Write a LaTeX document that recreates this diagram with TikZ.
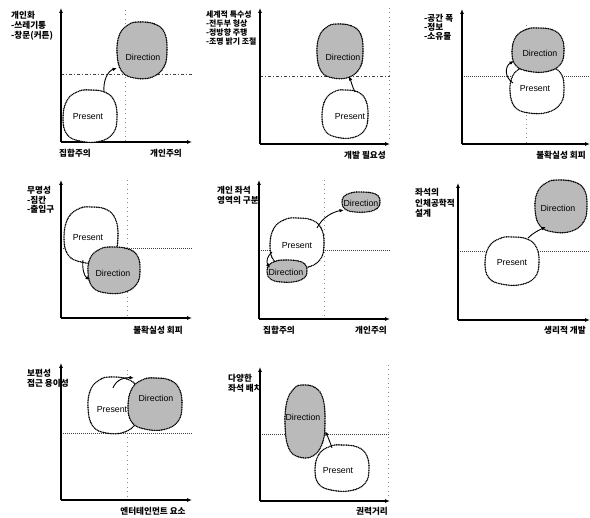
\documentclass[tikz,border=0pt]{standalone}
\usepackage{fontspec}
\setmainfont{Liberation Sans}
\newfontfamily\kr{Noto Sans CJK KR}
\usetikzlibrary{arrows.meta}
\newcommand{\myblob}[5]{\draw[#1, shift={(#2,#3)}, xscale=#4, yscale=#5] plot[smooth cycle, tension=0.7] coordinates {(0,-1) (0.55,-0.92) (0.9,-0.58) (1,0.05) (0.86,0.66) (0.35,0.98) (-0.35,0.97) (-0.86,0.7) (-1,0.05) (-0.84,-0.62) (-0.42,-0.95)};}
\newcommand{\myblobb}[5]{\draw[#1, shift={(#2,#3)}, xscale=#4, yscale=#5] plot[smooth cycle, tension=0.7] coordinates {(-0.15,-1) (0.5,-0.93) (0.9,-0.62) (1,0) (0.88,0.6) (0.4,0.97) (-0.3,1) (-0.82,0.75) (-1,0.1) (-0.9,-0.55) (-0.55,-0.9)};}
\tikzset{
  axis/.style={line width=1.1pt, -{Latex[length=5pt,width=4pt]}},
  hgrid/.style={line width=0.6pt, black!75, dash pattern=on 1pt off 1pt},
  hdash/.style={line width=0.6pt, black!75, dash pattern=on 3pt off 2pt on 1pt off 2pt},
  vgrid/.style={line width=0.6pt, black!45, dash pattern=on 1pt off 3.5pt},
  pres/.style={line width=1.6pt, dash pattern=on 0pt off 1.7pt, line cap=round, fill=white},
  dirn/.style={line width=1.6pt, dash pattern=on 0pt off 1.7pt, line cap=round, fill=black!27},
  arr/.style={line width=0.9pt, -{Latex[length=4.5pt,width=3.6pt]}},
  ktxt/.style={font=\kr\bfseries\fontsize{8.6}{9}\selectfont, inner sep=0pt, anchor=west},
  ktxs/.style={font=\kr\bfseries\fontsize{7.9}{8}\selectfont, inner sep=0pt, anchor=west},
  kax/.style={font=\kr\bfseries\fontsize{8.6}{9}\selectfont, inner sep=0pt},
  lbl/.style={font=\fontsize{8.8}{9}\selectfont, inner sep=0pt}
}
\begin{document}
\begin{tikzpicture}[x=1pt,y=-1pt]
\useasboundingbox (0,0) rectangle (590,518);
%% ---------- Panel 1 ----------
\coordinate (o1) at (61,142); \coordinate (y1) at (61,8); \coordinate (x1) at (192,142);
\draw[vgrid] (125,10) -- (125,142);
\draw[hdash] (61,74) -- (192,74);
\draw[axis] (o1) -- (y1); \draw[axis] (o1) -- (x1);
\myblob{pres}{90}{116}{27}{26}
\myblobb{dirn}{142}{50}{25}{28}
\node[lbl] (p1) at (88,117) {Present};
\node[lbl] (d1) at (143,57) {Direction};
\coordinate (a1s) at (104,92); \coordinate (a1e) at (117,68);
\draw[arr] (a1s) .. controls (103,80) and (108,71) .. (a1e);
\node[ktxt] (t1a) at (11,15) {개인화};
\node[ktxt] (t1b) at (11,25) {-쓰레기통};
\node[ktxt] (t1c) at (11,36) {-창문(커튼)};
\node[kax] (x1a) at (75,153) {집합주의};
\node[kax] (x1b) at (166,153) {개인주의};
%% ---------- Panel 2 ----------
\coordinate (o2) at (260,144); \coordinate (y2) at (260,8); \coordinate (x2) at (390,144);
\draw[vgrid] (389,8) -- (389,140);
\draw[hdash] (260,76) -- (390,76);
\draw[axis] (o2) -- (y2); \draw[axis] (o2) -- (x2);
\myblob{pres}{345}{114}{23}{24}
\myblobb{dirn}{340}{51}{23}{27}
\node[lbl] (p2) at (350,117) {Present};
\node[lbl] (d2) at (343,57) {Direction};
\coordinate (a2s) at (355,92); \coordinate (a2e) at (349,76);
\draw[arr] (a2s) .. controls (352,86) and (351,81) .. (a2e);
\node[ktxs] (t2a) at (206,15) {세계적 특수성};
\node[ktxs] (t2b) at (206,23.8) {-전두부 형상};
\node[ktxs] (t2c) at (206,32.6) {-정방향 주행};
\node[ktxs] (t2d) at (206,41.4) {-조명 밝기 조절};
\node[kax] (x2a) at (365,155) {개발 필요성};
%% ---------- Panel 3 ----------
\coordinate (o3) at (462,144); \coordinate (y3) at (462,9); \coordinate (x3) at (590,144);
\draw[vgrid] (526,25) -- (526,144);
\draw[hgrid] (462,76) -- (590,76);
\draw[axis] (o3) -- (y3); \draw[axis] (o3) -- (x3);
\myblobb{pres}{537}{89}{27}{24}
\myblob{dirn}{538}{50}{26}{22}
\node[lbl] (p3) at (535,89) {Present};
\node[lbl] (d3) at (540,53) {Direction};
\coordinate (a3s) at (513,83); \coordinate (a3e) at (514,61);
\draw[arr] (a3s) .. controls (504,77) and (505,66) .. (a3e);
\node[ktxt] (t3a) at (424,18) {-공간 폭};
\node[ktxt] (t3b) at (424,27) {-정보};
\node[ktxt] (t3c) at (424,36) {-소유물};
\node[kax] (x3a) at (561,155) {불확실성 회피};
%% ---------- Panel 4 ----------
\coordinate (o4) at (61,318); \coordinate (y4) at (61,180); \coordinate (x4) at (192,318);
\draw[vgrid] (127,180) -- (127,318);
\draw[hgrid] (61,248) -- (192,248);
\draw[axis] (o4) -- (y4); \draw[axis] (o4) -- (x4);
\myblob{pres}{91}{235}{27}{28}
\myblobb{dirn}{114}{270}{26}{23}
\node[lbl] (p4) at (88,238) {Present};
\node[lbl] (d4) at (113,273) {Direction};
\coordinate (a4s) at (83,260); \coordinate (a4e) at (90,280);
\draw[arr] (a4s) .. controls (82,268) and (84,276) .. (a4e);
\node[ktxt] (t4a) at (27,190) {무명성};
\node[ktxt] (t4b) at (27,200) {-짐칸};
\node[ktxt] (t4c) at (27,209) {-출입구};
\node[kax] (x4a) at (158,330) {불확실성 회피};
%% ---------- Panel 5 ----------
\coordinate (o5) at (259,319); \coordinate (y5) at (259,180); \coordinate (x5) at (390,319);
\draw[vgrid] (324,180) -- (324,319);
\draw[hgrid] (259,250) -- (390,250);
\draw[axis] (o5) -- (y5); \draw[axis] (o5) -- (x5);
\myblob{pres}{297}{243}{27}{25}
\myblobb{dirn}{287}{271}{20}{11}
\myblobb{dirn}{361}{202}{19}{10}
\node[lbl] (p5) at (297,246) {Present};
\node[lbl] (d5a) at (286,272) {Direction};
\node[lbl] (d5b) at (361,203) {Direction};
\coordinate (a5s) at (317,228); \coordinate (a5e) at (344,210);
\draw[arr] (a5s) .. controls (322,218) and (332,212) .. (a5e);
\coordinate (a5t) at (272,252); \coordinate (a5u) at (270,268);
\draw[arr] (a5t) .. controls (267,256) and (266,262) .. (a5u);
\node[ktxt] (t5a) at (217,190) {개인 좌석};
\node[ktxt] (t5b) at (217,200) {영역의 구분};
\node[kax] (x5a) at (279,330) {집합주의};
\node[kax] (x5b) at (371,330) {개인주의};
%% ---------- Panel 6 ----------
\coordinate (o6) at (458,320); \coordinate (y6) at (458,183); \coordinate (x6) at (590,320);
\draw[hgrid] (458,251) -- (590,251);
\draw[axis] (o6) -- (y6); \draw[axis] (o6) -- (x6);
\myblob{pres}{512}{261}{27}{24}
\myblobb{dirn}{561}{206}{26}{26}
\node[lbl] (p6) at (512,263) {Present};
\node[lbl] (d6) at (558,208) {Direction};
\coordinate (a6s) at (528,238); \coordinate (a6e) at (546,227);
\draw[arr] (a6s) .. controls (533,233) and (539,230) .. (a6e);
\node[ktxt] (t6a) at (415,192) {좌석의};
\node[ktxt] (t6b) at (415,203) {인체공학적};
\node[ktxt] (t6c) at (415,213) {설계};
\node[kax] (x6a) at (565,330) {생리적 개발};
%% ---------- Panel 7 ----------
\coordinate (o7) at (61,500); \coordinate (y7) at (61,363); \coordinate (x7) at (192,500);
\draw[vgrid] (127,370) -- (127,500);
\draw[hgrid] (61,433) -- (192,433);
\draw[axis] (o7) -- (y7); \draw[axis] (o7) -- (x7);
\myblobb{pres}{114}{405}{26}{28}
\myblob{dirn}{155}{404}{27}{26}
\node[lbl] (p7) at (112,410) {Present};
\node[lbl] (d7) at (156,398) {Direction};
\coordinate (a7s) at (113,388); \coordinate (a7e) at (134,378);
\draw[arr] (a7s) .. controls (116,380) and (124,377) .. (a7e);
\node[ktxt] (t7a) at (27,373) {보편성};
\node[ktxt] (t7b) at (27,383) {접근 용이성};
\node[kax] (x7a) at (153,511) {엔터테인먼트 요소};
%% ---------- Panel 8 ----------
\coordinate (o8) at (260,501); \coordinate (y8) at (260,367); \coordinate (x8) at (390,501);
\draw[vgrid] (388,365) -- (388,500);
\draw[hgrid] (260,434) -- (390,434);
\draw[axis] (o8) -- (y8); \draw[axis] (o8) -- (x8);
\myblobb{dirn}{305}{421}{20}{36}
\myblob{pres}{342}{468}{27}{23}
\node[lbl] (p8) at (338,471) {Present};
\node[lbl] (d8) at (303,417) {Direction};
\coordinate (a8s) at (332,448); \coordinate (a8e) at (325,431);
\draw[arr] (a8s) .. controls (330,442) and (328,437) .. (a8e);
\node[ktxt] (t8a) at (228,378) {다양한};
\node[ktxt] (t8b) at (228,388) {좌석 배치};
\node[kax] (x8a) at (372,511) {권력거리};
\end{tikzpicture}
\end{document}
